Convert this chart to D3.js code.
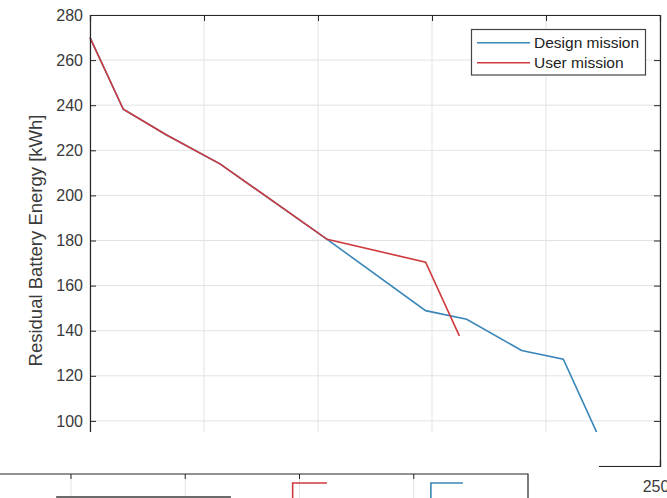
<!DOCTYPE html>
<html><head><meta charset="utf-8">
<script src="https://cdn.jsdelivr.net/npm/d3@7"></script>
<style>
html,body{margin:0;padding:0;background:#fff;}
svg{display:block;font-family:"Liberation Sans",Arial,Helvetica,sans-serif;}
</style></head>
<body><svg id="c" width="667" height="498"></svg>
<script>
// ---- data ----
const xTicks = [0, 50, 100, 150, 200, 250];
const yTicks = [80, 100, 120, 140, 160, 180, 200, 220, 240, 260, 280];
const seriesNames = ["Design mission", "User mission"];
const designX = [0, 14.6, 33.6, 57, 104, 147.2, 165.2, 189.3, 207.6, 222.2];
const designY = [270, 238.2, 226.8, 214, 180.5, 148.9, 145.1, 131.2, 127.4, 95];
const userX = [0, 14.6, 33.6, 57, 104, 147.2, 162];
const userY = [270, 238.2, 226.8, 214, 180.5, 170.4, 137.7];
// partial second figure peeking in at the bottom
const lowerTicks = [1, 2, 3, 4];
const lowerRed = [[2.94, 0], [2.94, 1], [3.24, 1]];
const lowerBlue = [[4.15, 0], [4.15, 1], [4.43, 1]];
const lowerBar = [0.87, 2.4];

const colors = {"Design mission": "#3a86b8", "User mission": "#cf3a3e"};
const axisColor = "#262626";
const gridColor = "#e3e3e3";

const svg = d3.select("#c");
const L = 90, R = 660, T = 15, B = 466;
const x = d3.scaleLinear().domain([0, 250]).range([L, R]);
const y = d3.scaleLinear().domain([80, 280]).range([B, T]);

// grid
const g = svg.append("g");
g.selectAll(".gx").data(xTicks).join("line")
  .attr("x1", d => x(d)).attr("x2", d => x(d)).attr("y1", T).attr("y2", B)
  .attr("stroke", gridColor).attr("stroke-width", 1);
g.selectAll(".gy").data(yTicks).join("line")
  .attr("x1", L).attr("x2", R).attr("y1", d => y(d)).attr("y2", d => y(d))
  .attr("stroke", gridColor).attr("stroke-width", 1);

// lines
const line = d3.line().x(d => x(d[0])).y(d => y(d[1]));
const design = designX.map((v, i) => [v, designY[i]]);
const user = userX.map((v, i) => [v, userY[i]]);
svg.append("path").attr("d", line(design)).attr("fill", "none")
  .attr("stroke", colors["Design mission"]).attr("stroke-width", 1.6);
svg.append("path").attr("d", line(user)).attr("fill", "none")
  .attr("stroke", colors["User mission"]).attr("stroke-width", 1.6);

// axes (ticks inward, box)
const fs = "16px";
const axL = svg.append("g").attr("transform", `translate(${L},0)`)
  .call(d3.axisRight(y).tickValues(yTicks).tickSize(6).tickFormat(""));
const axR = svg.append("g").attr("transform", `translate(${R},0)`)
  .call(d3.axisLeft(y).tickValues(yTicks).tickSize(6).tickFormat(""));
const axB = svg.append("g").attr("transform", `translate(0,${B})`)
  .call(d3.axisTop(x).tickValues(xTicks).tickSize(6).tickFormat(""));
const axT = svg.append("g").attr("transform", `translate(0,${T})`)
  .call(d3.axisBottom(x).tickValues(xTicks).tickSize(6).tickFormat(""));
[axL, axR, axB, axT].forEach(a => {
  a.select(".domain").attr("stroke", axisColor).attr("stroke-width", 1.2);
  a.selectAll(".tick line").attr("stroke", axisColor);
});
// y tick labels
svg.append("g").selectAll("text").data(yTicks).join("text")
  .attr("x", L - 7).attr("y", d => y(d)).attr("dy", "0.35em")
  .attr("text-anchor", "end").attr("font-size", fs).attr("fill", "#3a3a3a")
  .text(d => d);
// x tick labels
svg.append("g").selectAll("text").data(xTicks).join("text")
  .attr("x", d => x(d) - 4).attr("y", B + 26)
  .attr("text-anchor", "middle").attr("font-size", fs).attr("fill", "#3a3a3a")
  .text(d => d);
// y label
svg.append("text")
  .attr("transform", `translate(42,${(T + B) / 2}) rotate(-90)`)
  .attr("text-anchor", "middle").attr("font-size", "18.5px").attr("fill", "#3a3a3a")
  .text("Residual Battery Energy [kWh]");

// legend
const lg = svg.append("g");
lg.append("rect").attr("x", 471.5).attr("y", 29.5).attr("width", 174).attr("height", 45.5)
  .attr("fill", "#fff").attr("stroke", "#444").attr("stroke-width", 1.2);
seriesNames.forEach((n, i) => {
  const yy = 42.7 + i * 20;
  lg.append("line").attr("x1", 477).attr("x2", 530).attr("y1", yy).attr("y2", yy)
    .attr("stroke", colors[n]).attr("stroke-width", 1.6);
  lg.append("text").attr("x", 534).attr("y", yy).attr("dy", "0.35em")
    .attr("font-size", "15.5px").attr("fill", "#222").text(n);
});

// overlay of the second (cropped) figure
svg.append("rect").attr("x", 0).attr("y", 432).attr("width", 599).attr("height", 66).attr("fill", "#fff");
const lx = d3.scaleLinear().domain([0, 5]).range([-43.25, 528]);
const ly = d3.scaleLinear().domain([0, 1]).range([498, 483]);
const lowTop = 474;
svg.append("g").selectAll("line").data(lowerTicks).join("line")
  .attr("x1", d => lx(d)).attr("x2", d => lx(d)).attr("y1", lowTop).attr("y2", 498)
  .attr("stroke", gridColor);
svg.append("g").selectAll("line").data(lowerTicks).join("line")
  .attr("x1", d => lx(d)).attr("x2", d => lx(d)).attr("y1", lowTop).attr("y2", lowTop + 5)
  .attr("stroke", axisColor);
svg.append("path").attr("d", `M${lx(0)},${lowTop}H${lx(5)}V498`).attr("fill", "none")
  .attr("stroke", axisColor).attr("stroke-width", 1.2);
const lline = d3.line().x(d => lx(d[0])).y(d => ly(d[1]));
svg.append("path").attr("d", lline(lowerRed)).attr("fill", "none")
  .attr("stroke", colors["User mission"]).attr("stroke-width", 1.6);
svg.append("path").attr("d", lline(lowerBlue)).attr("fill", "none")
  .attr("stroke", colors["Design mission"]).attr("stroke-width", 1.6);
svg.append("rect").attr("x", lx(lowerBar[0])).attr("y", 496)
  .attr("width", lx(lowerBar[1]) - lx(lowerBar[0])).attr("height", 3).attr("fill", "#6b6b6b");
</script></body></html>
